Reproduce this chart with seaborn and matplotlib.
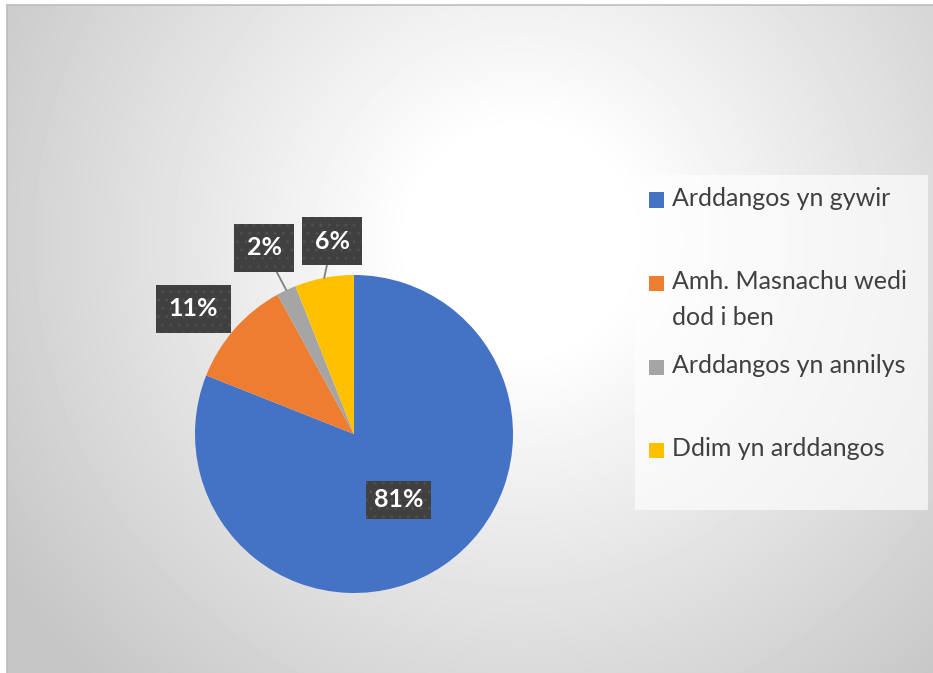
import numpy as np
import seaborn as sns
import matplotlib.pyplot as plt
from matplotlib.patches import Rectangle

sns.set_theme(style="white")
plt.rcParams['font.family'] = ['Lato', 'DejaVu Sans']

# data
categories = ["Arddangos yn gywir", "Amh. Masnachu wedi\ndod i ben",
              "Arddangos yn annilys", "Ddim yn arddangos"]
values = [81, 11, 2, 6]
colors = ["#4472C4", "#ED7D31", "#A5A5A5", "#FFC000"]

# label layout (radial distance, angle tweak in degrees), leader line on/off
label_dist = [0.5, 1.28, 1.30, 1.22]
label_turn = [0, 3.4, 0.6, -4.3]
label_pad = [0.3, 0.5, 0.5, 0.5]
leader = [False, False, True, True]

W, H = 933, 673
fig = plt.figure(figsize=(W / 100, H / 100), dpi=100)

# radial grey background of the chart area
bg = fig.add_axes([7 / W, 0, 1 - 7 / W, 1 - 5 / H], zorder=0)
yy, xx = np.mgrid[5:H, 7:W]
d = np.hypot(xx - 520, yy - 240)
t = np.clip((d - 110) / 500, 0, 1)
shade = 1 - (1 - 198 / 255) * t
bg.imshow(shade, cmap="gray", vmin=0, vmax=1, aspect="auto",
          extent=[0, 1, 0, 1], interpolation="bilinear")
bg.set_xticks([])
bg.set_yticks([])
for s in bg.spines.values():
    s.set_visible(False)
fig.add_artist(plt.Line2D([7 / W, 1], [1 - 5 / H] * 2, color="#bdbdbd", lw=1.2))
fig.add_artist(plt.Line2D([7 / W] * 2, [0, 1 - 5 / H], color="#bdbdbd", lw=1.2))

# pie axes: centre at (354, 434) px, radius 159 px
ax = fig.add_axes([0, 0, 1, 1], zorder=1)
ax.patch.set_alpha(0)
r = 159
cx, cy = 354, 434

wedges, _ = ax.pie(values, colors=colors, startangle=90, counterclock=False,
                   radius=1, center=(0, 0), frame=True,
                   wedgeprops=dict(edgecolor="none", linewidth=0))
ax.set_xlim(-cx / r, (W - cx) / r)
ax.set_ylim(-(H - cy) / r, cy / r)
ax.axis("off")

for i, w in enumerate(wedges):
    mid = np.deg2rad((w.theta1 + w.theta2) / 2)
    ang = mid + np.deg2rad(label_turn[i])
    tx, ty = label_dist[i] * np.cos(ang), label_dist[i] * np.sin(ang)
    box = dict(boxstyle=f"square,pad={label_pad[i]}", facecolor="#404040",
               edgecolor="#4e4e4e", linewidth=0, hatch="..")
    kw = dict(ha="center", va="center", color="white", fontsize=18,
              fontweight="bold", bbox=box, zorder=5)
    if leader[i]:
        ax.annotate(f"{values[i]}%", xy=(np.cos(mid), np.sin(mid)), xytext=(tx, ty),
                    arrowprops=dict(arrowstyle="-", color="#7f7f7f", lw=1.3,
                                    shrinkA=0, shrinkB=0), **kw)
    else:
        ax.text(tx, ty, f"{values[i]}%", **kw)

# legend panel
fig.add_artist(Rectangle((635 / W, 1 - 510 / H), 293 / W, 335 / H,
                         transform=fig.transFigure, facecolor="white",
                         alpha=0.65, edgecolor="none", zorder=2))
legend_y = [200, 283, 367, 450]
for lab, col, py in zip(categories, colors, legend_y):
    fig.add_artist(Rectangle((649 / W, 1 - (py + 7.5) / H), 15 / W, 15 / H,
                             transform=fig.transFigure, facecolor=col,
                             edgecolor="none", zorder=3))
    fig.text(672 / W, 1 - (py - 13) / H, lab, ha="left", va="top",
             fontsize=18, color="#404040", linespacing=1.7, zorder=4)

fig.savefig("out.png", dpi=100)
